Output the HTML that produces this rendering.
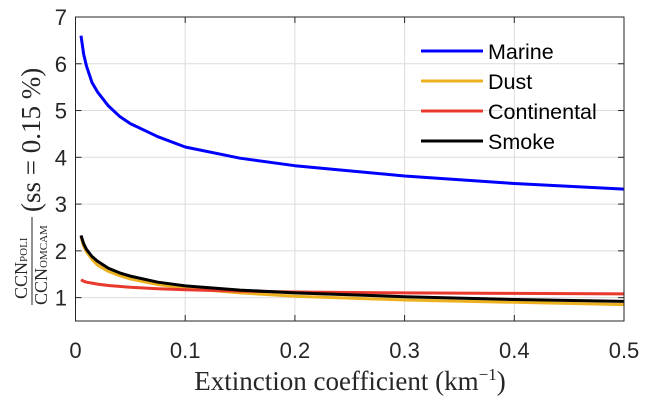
<!DOCTYPE html>
<html><head><meta charset="utf-8"><style>
body{margin:0;background:#fff;}
svg text{font-family:"Liberation Sans",sans-serif;}
</style></head><body>
<svg id="chart" width="650" height="405" xmlns="http://www.w3.org/2000/svg">
<g id="grid"></g>
<g id="series"></g>
<rect x="75.5" y="17" width="548.5" height="304" fill="none" stroke="#262626" stroke-width="1"/>
<g id="ticks"></g>
<text x="350" y="390" text-anchor="middle" font-size="27" fill="#262626" style="font-family:'Liberation Serif',serif">Extinction coefficient (km<tspan dy="-10" font-size="17">−1</tspan><tspan dy="10">)</tspan></text>
<g transform="translate(31,170) rotate(-90)" fill="#262626">
<text x="-129" y="-4" font-size="18" style="font-family:'Liberation Serif',serif">CCN<tspan font-size="11">POLI</tspan></text>
<line x1="-135" y1="1" x2="-47" y2="1" stroke="#262626" stroke-width="1"/>
<text x="-135" y="16" font-size="18" style="font-family:'Liberation Serif',serif">CCN<tspan font-size="11">OMCAM</tspan></text>
<text x="-42" y="9" font-size="27" style="font-family:'Liberation Serif',serif">(ss = 0.15 %)</text>
</g>
<g id="legend"></g>
</svg>
<script>
const xTicks=[0,0.1,0.2,0.3,0.4,0.5];
const yTicks=[1,2,3,4,5,6,7];
const xs=[0.005,0.0075,0.01,0.015,0.02,0.03,0.04,0.05,0.075,0.1,0.15,0.2,0.3,0.4,0.5];
const marine=[6.6,6.2,5.95,5.6,5.4,5.1,4.88,4.72,4.44,4.22,3.98,3.82,3.6,3.44,3.32];
const dust=[2.3,2.1,1.98,1.82,1.7,1.56,1.47,1.4,1.28,1.2,1.1,1.03,0.95,0.9,0.85];
const continental=[1.38,1.35,1.33,1.31,1.29,1.26,1.24,1.22,1.19,1.17,1.14,1.12,1.1,1.09,1.08];
const smoke=[2.33,2.15,2.03,1.88,1.78,1.63,1.53,1.46,1.33,1.25,1.16,1.1,1.02,0.96,0.92];
const seriesNames=["Marine","Dust","Continental","Smoke"];
const NS="http://www.w3.org/2000/svg";
const X=v=>75.5+v/0.5*548.5;
const Y=v=>321-(v-0.5)/6.5*304;
function mk(t,a,p){const e=document.createElementNS(NS,t);for(const k in a)e.setAttribute(k,a[k]);p.appendChild(e);return e;}
const grid=document.getElementById('grid'),ticks=document.getElementById('ticks');
xTicks.forEach(v=>{
 const g=mk('line',{x1:X(v),x2:X(v),y1:17,y2:321,stroke:'#dcdcdc'},grid);
 
 
 const t1=mk('line',{x1:X(v),x2:X(v),y1:321,y2:315,stroke:'#262626'},ticks);
 
 
 const t2=mk('line',{x1:X(v),x2:X(v),y1:17,y2:23,stroke:'#262626'},ticks);
 
 
 const l=mk('text',{x:X(v),y:358,'text-anchor':'middle','font-size':22,fill:'#262626'},ticks);
 l.textContent=String(v);
 
 
});
yTicks.forEach(v=>{
 const g=mk('line',{x1:75.5,x2:624,y1:Y(v),y2:Y(v),stroke:'#dcdcdc'},grid);
 
 
 const t1=mk('line',{x1:75.5,x2:81.5,y1:Y(v),y2:Y(v),stroke:'#262626'},ticks);
 
 
 const t2=mk('line',{x1:618,x2:624,y1:Y(v),y2:Y(v),stroke:'#262626'},ticks);
 
 
 const l=mk('text',{x:67,y:Y(v)+8,'text-anchor':'end','font-size':22,fill:'#262626'},ticks);
 l.textContent=String(v);
 
 
});
const colors=['#0000ff','#edb120','#e8392c','#000000'];
const data=[marine,dust,continental,smoke];
const sg=document.getElementById('series');
data.forEach((d,i)=>{
 const pts=xs.map((x,j)=>X(x).toFixed(1)+','+Y(d[j]).toFixed(1)).join(' ');
 const p=mk('polyline',{points:pts,fill:'none',stroke:colors[i],'stroke-width':3,'stroke-linejoin':'round'},sg);
 
 
});
const lg=document.getElementById('legend');
seriesNames.forEach((n,i)=>{
 const y=51+i*30;
 const l=mk('line',{x1:421,x2:483,y1:y,y2:y,stroke:colors[i],'stroke-width':3},lg);
 
 
 const t=mk('text',{x:488,y:y+8,'font-size':21.5,fill:'#000'},lg);
 t.textContent=n;
 
 
});
</script>
</body></html>
